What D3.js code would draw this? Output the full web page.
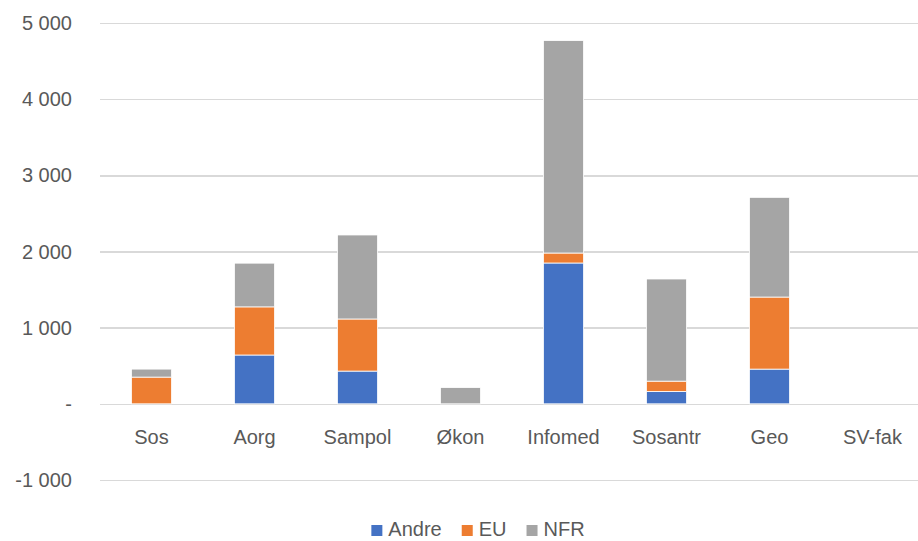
<!DOCTYPE html>
<html lang="no">
<head>
    <meta charset="UTF-8">
    <title>Inntekter per institutt</title>
    <script src="https://d3js.org/d3.v7.min.js"></script>
    <style>
        body { margin: 0; background: #ffffff; }
        svg { display: block; font-family: "Liberation Sans", Arial, sans-serif; }
        .grid line { stroke: #d9d9d9; stroke-width: 1.5; shape-rendering: crispEdges; }
        .grid path { stroke-width: 0; }
        .axis-text { font-size: 20px; fill: #595959; }
    </style>
</head>
<body>
    <div id="chart"></div>
    <script>
        // Data lest av figuren
        const categories = ["Sos", "Aorg", "Sampol", "Økon", "Infomed", "Sosantr", "Geo", "SV-fak"];
        const seriesNames = ["Andre", "EU", "NFR"];
        const andre = [0, 641, 430, 0, 1849, 162, 456, 0];
        const eu = [351, 632, 684, 0, 131, 136, 946, 0];
        const nfr = [105, 574, 1103, 214, 2790, 1341, 1309, 0];
        const yTicks = [-1000, 0, 1000, 2000, 3000, 4000, 5000];
        const colors = ["#4472c4", "#ed7d31", "#a5a5a5"];

        const W = 918, H = 541;
        const plot = { left: 100, right: 924, top: 23, bottom: 480 };

        const table = categories.map((c, i) => ({ cat: c, Andre: andre[i], EU: eu[i], NFR: nfr[i] }));
        const stacked = d3.stack().keys(seriesNames)(table);

        const svg = d3.select("#chart").append("svg")
            .attr("width", W).attr("height", H);

        const x = d3.scaleBand()
            .domain(categories)
            .range([plot.left, plot.right])
            .paddingInner(0.61)
            .paddingOuter(0.305);

        const y = d3.scaleLinear()
            .domain([-1000, 5000])
            .range([plot.bottom, plot.top]);

        const nf = d3.formatLocale({ decimal: ",", thousands: " ", grouping: [3], currency: ["", " kr"], minus: "-" }).format(",d");

        // rutenett
        svg.append("g")
            .attr("class", "grid")
            .attr("transform", `translate(${plot.left},0)`)
            .call(d3.axisLeft(y).tickValues(yTicks).tickSize(-(W - plot.left)).tickFormat(""));

        // y-etiketter
        svg.append("g").selectAll("text")
            .data(yTicks)
            .join("text")
            .attr("class", "axis-text")
            .attr("x", 72)
            .attr("y", d => y(d))
            .attr("dy", "0.35em")
            .attr("text-anchor", "end")
            .text(d => d === 0 ? "-" : nf(d));

        // stablede søyler
        svg.append("g").selectAll("g")
            .data(stacked)
            .join("g")
            .attr("fill", (d, i) => colors[i])
            .selectAll("rect")
            .data(d => d)
            .join("rect")
            .attr("x", d => x(d.data.cat))
            .attr("width", x.bandwidth())
            .attr("y", d => y(d[1]))
            .attr("height", d => y(d[0]) - y(d[1]))
            .attr("stroke", "#ffffff")
            .attr("stroke-width", d => d[1] > d[0] ? 0.8 : 0);

        // kategorietiketter
        svg.append("g").selectAll("text")
            .data(categories)
            .join("text")
            .attr("class", "axis-text")
            .attr("x", d => x(d) + x.bandwidth() / 2)
            .attr("y", 444)
            .attr("text-anchor", "middle")
            .text(d => d);

        // tegnforklaring
        const legend = svg.append("g");
        const items = legend.selectAll("g")
            .data(seriesNames)
            .join("g");
        items.append("rect")
            .attr("width", 11).attr("height", 11)
            .attr("y", -11)
            .attr("fill", (d, i) => colors[i]);
        items.append("text")
            .attr("class", "axis-text")
            .attr("x", 17)
            .text(d => d);
        let pos = 0;
        items.each(function () {
            const w = d3.select(this).select("text").node().getComputedTextLength();
            d3.select(this).attr("transform", `translate(${pos},0)`);
            pos += 17 + w + 20;
        });
        const total = pos - 20;
        legend.attr("transform", `translate(${478 - total / 2},536)`);
    </script>
</body>
</html>
